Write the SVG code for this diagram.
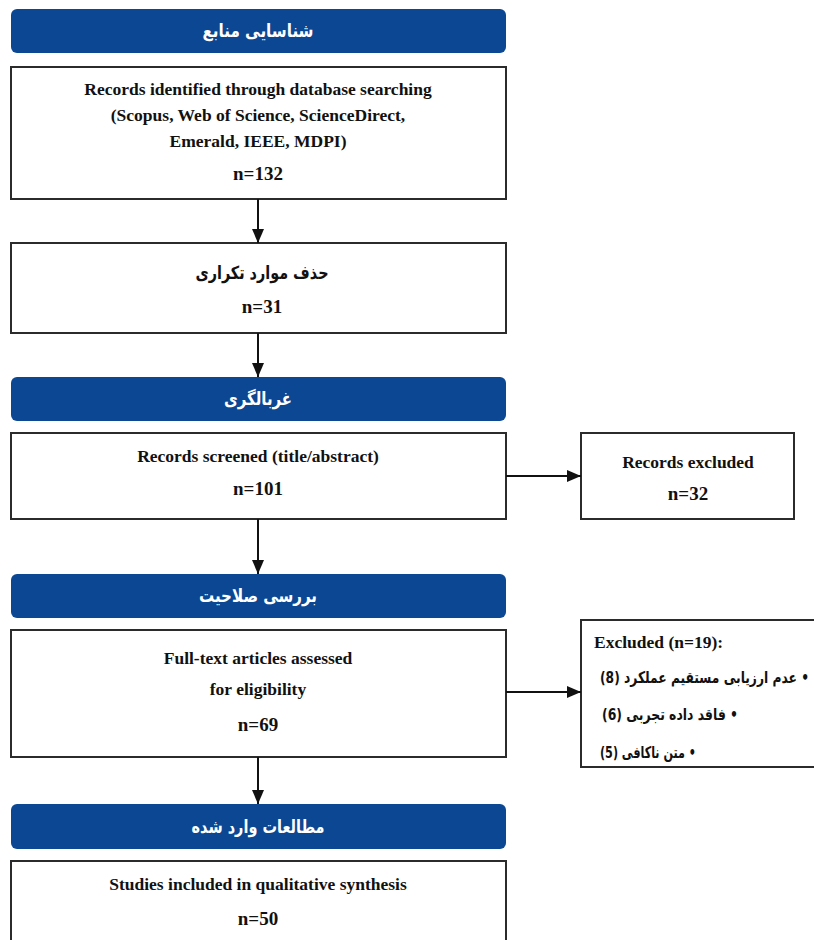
<svg xmlns="http://www.w3.org/2000/svg" width="814" height="940" viewBox="0 0 814 940">
<style>
.hdr{fill:#0b4793;}
.box{fill:#ffffff;stroke:#2b2b2b;stroke-width:2;}
.ht{font-family:"DejaVu Sans",sans-serif;font-weight:bold;font-size:18px;fill:#ffffff;text-anchor:middle;}
.en{font-family:"Liberation Serif","Times New Roman",serif;font-weight:bold;font-size:17.5px;fill:#111;text-anchor:middle;}
.nn{font-family:"Liberation Serif","Times New Roman",serif;font-weight:bold;font-size:19px;fill:#111;text-anchor:middle;}
.fa{font-family:"DejaVu Sans",sans-serif;font-weight:bold;font-size:16px;fill:#111;}
.con{stroke:#111;stroke-width:2;fill:none;}
</style>
<defs>
<marker id="arr" viewBox="0 0 14 14" refX="14" refY="7" markerWidth="14" markerHeight="14" markerUnits="userSpaceOnUse" orient="auto">
<path d="M0,1 L14,7 L0,13 z" fill="#111"/>
</marker>
</defs>
<rect width="814" height="940" fill="#ffffff"/>

<g id="h1"><rect class="hdr" x="11" y="9" width="495" height="44" rx="6"/><text class="ht" x="258" y="37" textLength="111" lengthAdjust="spacingAndGlyphs">شناسایی منابع</text></g>
<g id="n1"><rect class="box" x="11" y="67" width="495" height="132"/>
<text class="en" x="258" y="95">Records identified through database searching</text>
<text class="en" x="258" y="121">(Scopus, Web of Science, ScienceDirect,</text>
<text class="en" x="258" y="147">Emerald, IEEE, MDPI)</text>
<text class="nn" x="258" y="180">n=132</text></g>

<g id="n2"><rect class="box" x="11" y="243" width="495" height="90"/>
<text class="fa" x="262" y="279" text-anchor="middle" style="font-size:18px" textLength="133" lengthAdjust="spacingAndGlyphs">حذف موارد تکراری</text>
<text class="nn" x="262" y="313">n=31</text></g>

<g id="h2"><rect class="hdr" x="11" y="377" width="495" height="44" rx="6"/><text class="ht" x="258" y="405" textLength="68" lengthAdjust="spacingAndGlyphs">غربالگری</text></g>
<g id="n3"><rect class="box" x="11" y="433" width="495" height="86"/>
<text class="en" x="258" y="462">Records screened (title/abstract)</text>
<text class="nn" x="258" y="495">n=101</text></g>
<g id="n3x"><rect class="box" x="581" y="433" width="213" height="86"/>
<text class="en" x="688" y="468">Records excluded</text>
<text class="nn" x="688" y="500">n=32</text></g>

<g id="h3"><rect class="hdr" x="11" y="574" width="495" height="44" rx="6"/><text class="ht" x="258" y="602" textLength="118" lengthAdjust="spacingAndGlyphs">بررسی صلاحیت</text></g>
<g id="n4"><rect class="box" x="11" y="630" width="495" height="127"/>
<text class="en" x="258" y="664">Full-text articles assessed</text>
<text class="en" x="258" y="695">for eligibility</text>
<text class="nn" x="258" y="731">n=69</text></g>
<g id="n4x"><rect class="box" x="581" y="620" width="250" height="147"/>
<text class="en" x="594" y="648" style="text-anchor:start">Excluded (n=19):</text>
<text class="fa" x="600" y="683" direction="rtl" unicode-bidi="embed" text-anchor="end" textLength="209" lengthAdjust="spacingAndGlyphs">• عدم ارزیابی مستقیم عملکرد (8)</text>
<text class="fa" x="602" y="720" direction="rtl" unicode-bidi="embed" text-anchor="end" textLength="136" lengthAdjust="spacingAndGlyphs">• فاقد داده تجربی (6)</text>
<text class="fa" x="600" y="758" direction="rtl" unicode-bidi="embed" text-anchor="end" textLength="96" lengthAdjust="spacingAndGlyphs">• متن ناکافی (5)</text></g>

<g id="h4"><rect class="hdr" x="11" y="804" width="495" height="45" rx="6"/><text class="ht" x="258" y="833" textLength="133" lengthAdjust="spacingAndGlyphs">مطالعات وارد شده</text></g>
<g id="n5"><rect class="box" x="11" y="861" width="495" height="100"/>
<text class="en" x="258" y="890">Studies included in qualitative synthesis</text>
<text class="nn" x="258" y="925">n=50</text></g>

<g id="connectors">
<line class="con" x1="258" y1="199" x2="258" y2="243" marker-end="url(#arr)"/>
<line class="con" x1="258" y1="333" x2="258" y2="377" marker-end="url(#arr)"/>
<line class="con" x1="258" y1="519" x2="258" y2="574" marker-end="url(#arr)"/>
<line class="con" x1="258" y1="757" x2="258" y2="804" marker-end="url(#arr)"/>
<line class="con" x1="506" y1="476" x2="581" y2="476" marker-end="url(#arr)"/>
<line class="con" x1="506" y1="692" x2="581" y2="692" marker-end="url(#arr)"/>
</g>
</svg>
